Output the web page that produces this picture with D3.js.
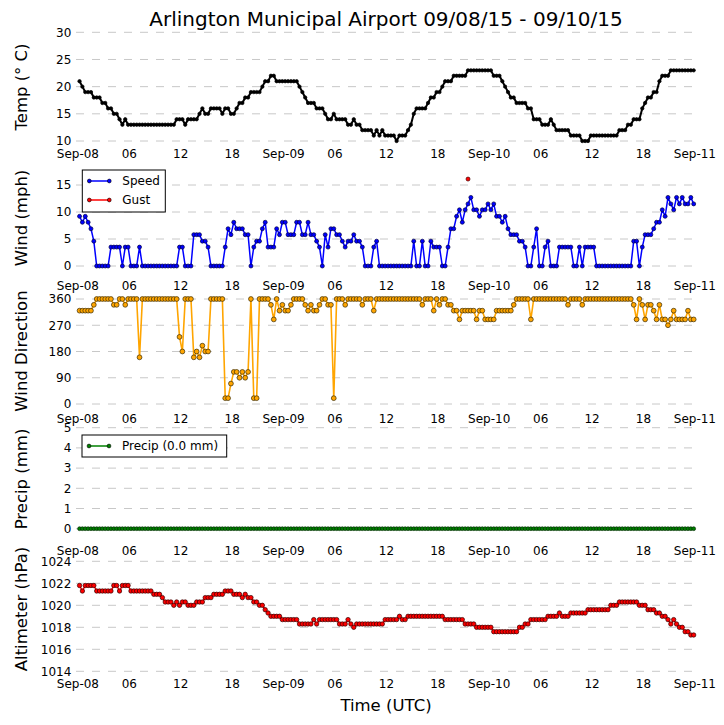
<!DOCTYPE html>
<html>
<head>
<meta charset="utf-8">
<script src="https://cdnjs.cloudflare.com/ajax/libs/d3/7.8.5/d3.min.js"></script>
<style>
  body { margin: 0; background: #fff; }
  svg { font-family: "DejaVu Sans", sans-serif; }
  .grid line { stroke: #c8c8c8; stroke-width: 1; stroke-dasharray: 8,8; }
  .tick text { font-size: 12px; fill: #000; }
  .axis-label { font-size: 16.5px; }
</style>
</head>
<body>
<svg id="chart" width="724" height="725"></svg>
<script>
// Arlington Municipal Airport meteogram -- obs every 20 min from 00:15Z Sep-08

var obsStart = Date.UTC(2015, 8, 8, 0, 15);
var obsStepMinutes = 20;

var temp = [
  21,20,19,19,19,18,18,18,17,17,16,16,15,15,14,13,14,13,
  13,13,13,13,13,13,13,13,13,13,13,13,13,13,13,13,14,14,
  14,13,14,14,14,14,15,16,15,15,16,16,16,16,15,16,16,15,
  15,16,17,17,18,18,19,19,19,19,20,21,21,22,22,21,21,21,
  21,21,21,21,21,20,19,18,17,17,17,16,16,16,15,14,14,15,
  14,14,14,14,13,13,14,13,13,12,12,12,12,11,12,11,12,11,
  11,11,11,10,11,11,11,12,13,15,16,16,16,16,17,18,18,19,
  19,20,21,21,21,22,22,22,22,22,23,23,23,23,23,23,23,23,
  23,22,22,22,21,20,19,18,18,17,17,17,17,16,16,14,14,14,
  13,13,13,14,13,12,12,12,12,12,11,11,11,11,10,10,10,11,
  11,11,11,11,11,11,11,11,11,12,12,12,13,13,14,14,14,16,
  17,18,18,19,19,21,22,22,22,23,23,23,23,23,23,23,23,23
];

var windSpeed = [
  9.2,8.1,9.2,8.1,6.9,4.6,0,0,0,0,0,3.5,3.5,3.5,3.5,0,3.5,3.5,
  0,0,0,3.5,0,0,0,0,0,0,0,0,0,0,0,0,0,3.5,
  3.5,0,0,0,5.8,5.8,5.8,4.6,4.6,3.5,0,0,0,0,0,3.5,6.9,5.8,
  8.1,6.9,6.9,6.9,5.8,5.8,0,3.5,4.6,4.6,6.9,8.1,3.5,3.5,3.5,6.9,5.8,8.1,
  8.1,5.8,5.8,5.8,8.1,8.1,5.8,5.8,8.1,5.8,5.8,4.6,3.5,0,5.8,3.5,6.9,6.9,
  5.8,5.8,4.6,3.5,4.6,4.6,5.8,4.6,4.6,3.5,0,0,0,3.5,4.6,0,0,0,
  0,0,0,0,0,0,0,0,0,4.6,0,0,4.6,0,0,4.6,3.5,3.5,
  3.5,0,0,3.5,6.9,6.9,9.2,10.4,8.1,10.4,11.5,12.7,10.4,10.4,9.2,10.4,10.4,11.5,
  10.4,11.5,9.2,9.2,8.1,9.2,6.9,5.8,5.8,5.8,4.6,4.6,3.5,0,0,3.5,6.9,0,
  0,3.5,4.6,0,0,0,3.5,3.5,3.5,3.5,3.5,0,0,3.5,0,3.5,3.5,3.5,
  3.5,0,0,0,0,0,0,0,0,0,0,0,0,0,4.6,4.6,0,3.5,
  5.8,5.8,5.8,6.9,8.1,8.1,10.4,9.2,12.7,11.5,10.4,12.7,11.5,12.7,11.5,11.5,12.7,11.5
];

// only one gust reported: [obs index, mph]
var windGust = [[136, 16.1]];

var windDir = [
  320,320,320,320,320,340,360,360,360,360,360,360,340,340,360,360,340,360,
  360,360,360,160,360,360,360,360,360,360,360,360,360,360,360,360,360,230,
  180,360,360,360,160,180,160,200,180,180,360,360,360,360,360,20,20,70,
  110,110,90,110,90,110,360,20,20,360,360,360,360,340,290,360,320,340,
  320,320,340,360,360,360,360,340,320,340,320,320,340,360,360,340,340,20,
  360,360,360,340,360,360,360,360,360,340,360,360,360,320,360,360,360,360,
  360,360,360,360,360,360,360,360,360,360,360,360,340,360,360,360,320,360,
  340,360,360,340,340,320,320,290,320,320,320,320,320,290,320,320,290,290,
  290,290,320,320,320,320,320,320,340,360,360,360,360,360,290,360,360,360,
  360,360,360,360,360,360,360,360,360,340,360,360,360,360,340,360,360,360,
  360,360,360,360,360,360,360,360,360,360,360,360,360,360,340,290,360,340,
  290,340,340,320,290,340,290,290,270,290,320,290,290,290,290,320,290,290
];

var precip = [
  0,0,0,0,0,0,0,0,0,0,0,0,0,0,0,0,0,0,
  0,0,0,0,0,0,0,0,0,0,0,0,0,0,0,0,0,0,
  0,0,0,0,0,0,0,0,0,0,0,0,0,0,0,0,0,0,
  0,0,0,0,0,0,0,0,0,0,0,0,0,0,0,0,0,0,
  0,0,0,0,0,0,0,0,0,0,0,0,0,0,0,0,0,0,
  0,0,0,0,0,0,0,0,0,0,0,0,0,0,0,0,0,0,
  0,0,0,0,0,0,0,0,0,0,0,0,0,0,0,0,0,0,
  0,0,0,0,0,0,0,0,0,0,0,0,0,0,0,0,0,0,
  0,0,0,0,0,0,0,0,0,0,0,0,0,0,0,0,0,0,
  0,0,0,0,0,0,0,0,0,0,0,0,0,0,0,0,0,0,
  0,0,0,0,0,0,0,0,0,0,0,0,0,0,0,0,0,0,
  0,0,0,0,0,0,0,0,0,0,0,0,0,0,0,0,0,0
];

var altimeter = [
  1021.8,1021.3,1021.8,1021.8,1021.8,1021.8,1021.3,1021.3,1021.3,1021.3,1021.3,1021.3,1021.8,1021.8,1021.3,1021.8,1021.8,1021.8,
  1021.3,1021.3,1021.3,1021.3,1021.3,1021.3,1021.3,1021.3,1021.0,1021.0,1021.0,1020.7,1020.3,1020.3,1020.3,1020.0,1020.3,1020.0,
  1020.3,1020.3,1020.0,1020.0,1020.0,1020.3,1020.3,1020.3,1020.7,1020.7,1020.7,1021.0,1021.0,1021.0,1021.0,1021.3,1021.3,1021.3,
  1021.0,1021.0,1021.0,1020.7,1021.0,1020.7,1020.7,1020.3,1020.3,1020.0,1020.0,1019.6,1019.3,1019.0,1019.0,1019.0,1019.0,1018.7,
  1018.7,1018.7,1018.7,1018.7,1018.7,1018.3,1018.3,1018.3,1018.3,1018.3,1018.7,1018.3,1018.7,1018.7,1018.7,1018.7,1018.7,1018.7,
  1018.7,1018.3,1018.3,1018.3,1018.7,1018.3,1018.0,1018.3,1018.3,1018.3,1018.3,1018.3,1018.3,1018.3,1018.3,1018.3,1018.3,1018.7,
  1018.7,1018.7,1018.7,1018.7,1019.0,1018.7,1018.7,1019.0,1019.0,1019.0,1019.0,1019.0,1019.0,1019.0,1019.0,1019.0,1019.0,1019.0,
  1019.0,1019.0,1018.7,1018.7,1018.7,1018.7,1018.7,1018.7,1018.7,1018.3,1018.3,1018.3,1018.3,1018.0,1018.0,1018.0,1018.0,1018.0,
  1018.0,1017.6,1017.6,1017.6,1017.6,1017.6,1017.6,1017.6,1017.6,1017.6,1018.0,1018.0,1018.3,1018.3,1018.7,1018.7,1018.7,1018.7,
  1018.7,1018.7,1019.0,1019.0,1019.0,1019.0,1019.3,1019.0,1019.0,1019.0,1019.3,1019.3,1019.3,1019.3,1019.3,1019.3,1019.6,1019.6,
  1019.6,1019.6,1019.6,1019.6,1019.6,1019.6,1020.0,1020.0,1020.0,1020.3,1020.3,1020.3,1020.3,1020.3,1020.3,1020.3,1020.0,1020.0,
  1020.0,1019.6,1019.6,1019.6,1019.3,1019.3,1019.0,1019.0,1018.7,1018.3,1018.7,1018.3,1018.0,1018.0,1017.6,1017.6,1017.3,1017.3
];

var tempTicks = [10, 15, 20, 25, 30];
var windTicks = [0, 5, 10, 15];
var dirTicks = [0, 90, 180, 270, 360];
var precipTicks = [0, 1, 2, 3, 4, 5];
var altTicks = [1014, 1016, 1018, 1020, 1022, 1024];

var timeStart = new Date(Date.UTC(2015, 8, 8));
var timeEnd = new Date(Date.UTC(2015, 8, 11));

var svg = d3.select("#chart");

var x = d3.scaleUtc().domain([timeStart, timeEnd]).range([77.4, 694.4]);

function obsTime(i) {
  return new Date(obsStart + i * obsStepMinutes * 60000);
}

var fmtDay = d3.utcFormat("%b-%d"),
    fmtHour = d3.utcFormat("%H");
function timeLabel(d) {
  return d.getUTCHours() === 0 ? fmtDay(d) : fmtHour(d);
}

// one entry per panel: scale range, x label row, ylabel centre
var panels = {
  temp:   {y: d3.scaleLinear().domain([10, 30]).range([141, 32.3]), ticks: tempTicks, row: 154, label: "Temp (\u00b0 C)", mid: 87},
  wind:   {y: d3.scaleLinear().domain([0, 15]).range([266, 185]), ticks: windTicks, row: 285.7, label: "Wind (mph)", mid: 218},
  dir:    {y: d3.scaleLinear().domain([0, 360]).range([404, 299]), ticks: dirTicks, row: 418.3, label: "Wind Direction", mid: 351},
  precip: {y: d3.scaleLinear().domain([0, 5]).range([528.7, 427.7]), ticks: precipTicks, row: 550.7, label: "Precip (mm)", mid: 479},
  alt:    {y: d3.scaleLinear().domain([1014, 1024]).range([671.3, 561.3]), ticks: altTicks, row: 684, label: "Altimeter (hPa)", mid: 609}
};

Object.keys(panels).forEach(function (key) {
  var p = panels[key];

  // dashed grid
  svg.append("g").attr("class", "grid")
    .selectAll("line").data(p.ticks).enter().append("line")
    .attr("x1", 76).attr("x2", 695)
    .attr("y1", function (d) { return p.y(d); })
    .attr("y2", function (d) { return p.y(d); });

  var ya = svg.append("g")
    .attr("transform", "translate(77.4,0)")
    .call(d3.axisLeft(p.y).tickValues(p.ticks).tickSize(0).tickPadding(6).tickFormat(d3.format("d")));
  ya.select(".domain").remove();
  ya.selectAll("text").attr("font-family", "DejaVu Sans");

  var xa = svg.append("g")
    .attr("transform", "translate(0," + p.row + ")")
    .call(d3.axisBottom(x).ticks(d3.utcHour.every(6)).tickSize(0).tickPadding(0).tickFormat(timeLabel));
  xa.select(".domain").remove();
  xa.selectAll("text").attr("y", 0).attr("dy", "0.36em").attr("font-family", "DejaVu Sans");

  svg.append("text")
    .attr("class", "axis-label")
    .attr("transform", "translate(21," + p.mid + ") rotate(-90)")
    .attr("text-anchor", "middle")
    .attr("dy", "0.36em")
    .text(p.label);
});

function drawSeries(values, p, color, lineWidth, r, edge) {
  var line = d3.line()
    .x(function (d, i) { return x(obsTime(i)); })
    .y(function (d) { return p.y(d); });
  svg.append("path")
    .datum(values)
    .attr("fill", "none")
    .attr("stroke", color)
    .attr("stroke-width", lineWidth)
    .attr("stroke-linejoin", "round")
    .attr("d", line);
  svg.append("g").selectAll("circle").data(values).enter().append("circle")
    .attr("cx", function (d, i) { return x(obsTime(i)); })
    .attr("cy", function (d) { return p.y(d); })
    .attr("r", r)
    .attr("fill", color)
    .attr("stroke", edge)
    .attr("stroke-width", 0.7);
}

drawSeries(temp, panels.temp, "#000", 2, 1.7, "#000");
drawSeries(windSpeed, panels.wind, "#0000ff", 1.5, 2, "#000044");
drawSeries(windDir, panels.dir, "#ffa500", 1.6, 2.4, "#3a2a00");
drawSeries(precip, panels.precip, "#008000", 1.5, 1.9, "#002a00");
drawSeries(altimeter, panels.alt, "#ff0000", 1.5, 2.2, "#330000");

// gust marker
svg.append("g").selectAll("circle").data(windGust).enter().append("circle")
  .attr("cx", function (d) { return x(obsTime(d[0])); })
  .attr("cy", function (d) { return panels.wind.y(d[1]); })
  .attr("r", 2)
  .attr("fill", "#ff0000")
  .attr("stroke", "#440000")
  .attr("stroke-width", 0.7);

// legends
function legend(x0, y0, w, h, items) {
  var g = svg.append("g");
  g.append("rect")
    .attr("x", x0).attr("y", y0).attr("width", w).attr("height", h)
    .attr("fill", "#fff").attr("stroke", "#000").attr("stroke-width", 1);
  items.forEach(function (it, i) {
    var cy = y0 + 11 + i * 19;
    g.append("line")
      .attr("x1", x0 + 7).attr("x2", x0 + 27)
      .attr("y1", cy).attr("y2", cy)
      .attr("stroke", it.color).attr("stroke-width", 1.5);
    [x0 + 7, x0 + 27].forEach(function (cx) {
      g.append("circle").attr("cx", cx).attr("cy", cy).attr("r", 1.9)
        .attr("fill", it.color).attr("stroke", "#000").attr("stroke-width", 0.6);
    });
    g.append("text")
      .attr("x", x0 + 40).attr("y", cy).attr("dy", "0.36em")
      .attr("font-size", "12px")
      .text(it.name);
  });
}

legend(82.3, 170, 83, 42, [{name: "Speed", color: "#0000ff"}, {name: "Gust", color: "#ff0000"}]);
legend(82, 435, 144.7, 22, [{name: "Precip (0.0 mm)", color: "#008000"}]);

// titles
svg.append("text")
  .attr("x", 386).attr("y", 26)
  .attr("text-anchor", "middle")
  .attr("font-size", "20px")
  .text("Arlington Municipal Airport 09/08/15 - 09/10/15");

svg.append("text")
  .attr("x", 386).attr("y", 711)
  .attr("text-anchor", "middle")
  .attr("font-size", "16.5px")
  .text("Time (UTC)");
</script>
</body>
</html>
